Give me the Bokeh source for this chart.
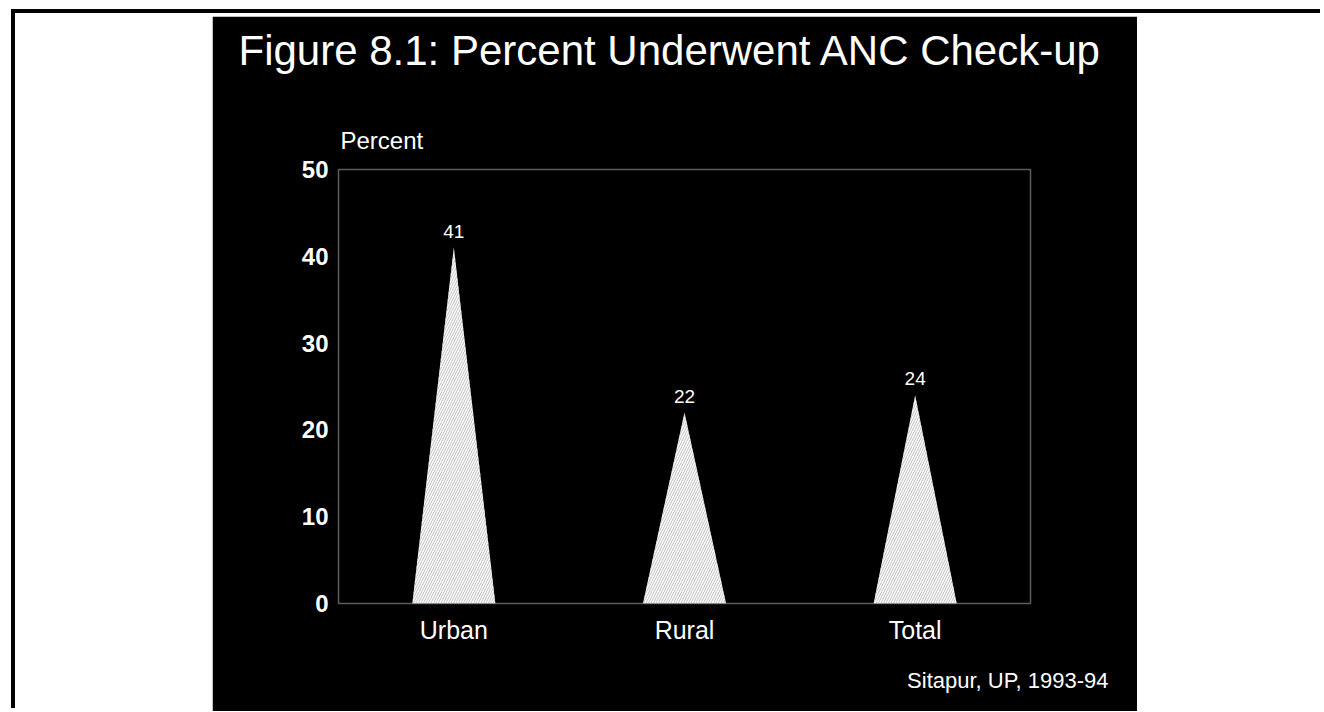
from bokeh.plotting import figure
from bokeh.models import Range1d, FixedTicker, Title, ColumnDataSource, LabelSet
from bokeh.core.properties import value
from bokeh.layouts import column
from bokeh.embed import file_html
from bokeh.resources import INLINE

# ---- data ----
categories = ["Urban", "Rural", "Total"]
values = [41, 22, 24]
y_ticks = [0, 10, 20, 30, 40, 50]
title_text = "Figure 8.1: Percent Underwent ANC Check-up"
source_text = "Sitapur, UP, 1993-94"
y_label = "Percent"

FONT = "Liberation Sans"
HALF = 0.18

centers = [i + 0.5 for i in range(len(categories))]
tri_src = ColumnDataSource(dict(
    xs=[[c - HALF, c, c + HALF] for c in centers],
    ys=[[0, v, 0] for v in values],
))
lab_src = ColumnDataSource(dict(x=centers, y=values, text=[str(v) for v in values]))

p = figure(width=925, height=696, x_range=Range1d(0, len(categories)), y_range=Range1d(0, 50),
           output_backend="svg", toolbar_location=None,
           background_fill_color="black", border_fill_color="black",
           outline_line_color="#5c5c5c", outline_line_width=1.5,
           min_border_left=126, min_border_right=107, min_border_top=153, min_border_bottom=108,
           margin=(3, 0, 0, 197))
p.grid.visible = False

p.patches("xs", "ys", source=tri_src, fill_color="white", line_color=None,
          hatch_pattern="/", hatch_color="#bdbdbd", hatch_scale=5, hatch_weight=1)

p.add_layout(LabelSet(x="x", y="y", text="text", source=lab_src, text_align="center",
                      text_baseline="alphabetic", y_offset=10, text_color="white",
                      text_font=value(FONT), text_font_size="19px"))

# y axis
p.yaxis.ticker = FixedTicker(ticks=y_ticks)
p.yaxis.axis_line_color = None
p.yaxis.major_tick_line_color = None
p.yaxis.minor_tick_line_color = None
p.yaxis.major_label_text_color = "white"
p.yaxis.major_label_text_font = FONT
p.yaxis.major_label_text_font_style = "bold"
p.yaxis.major_label_text_font_size = "24px"
p.yaxis.major_label_standoff = 4

# x axis
p.xaxis.ticker = FixedTicker(ticks=centers)
p.xaxis.major_label_overrides = {c: n for c, n in zip(centers, categories)}
p.xaxis.axis_line_color = None
p.xaxis.major_tick_line_color = None
p.xaxis.minor_tick_line_color = None
p.xaxis.major_label_text_color = "white"
p.xaxis.major_label_text_font = FONT
p.xaxis.major_label_text_font_size = "25px"
p.xaxis.major_label_standoff = 6

# "Percent" label above the y axis (nearest the frame)
p.add_layout(Title(text=y_label, align="left", offset=2, text_color="white",
                   text_font=FONT, text_font_style="normal", text_font_size="24px",
                   standoff=32), "above")
# empty spacer between "Percent" and the main title
p.add_layout(Title(text=" ", align="left", text_color="black",
                   text_font=FONT, text_font_size="1px", standoff=23), "above")

# main title (outermost)
p.title.text = title_text
p.title.text_color = "white"
p.title.text_font = FONT
p.title.text_font_style = "normal"
p.title.text_font_size = "42px"
p.title.align = "left"
p.title.offset = -100
p.title.standoff = 17

p.add_layout(Title(text=source_text, align="right", offset=-78, text_color="white",
                   text_font=FONT, text_font_style="normal", text_font_size="22px",
                   standoff=38), "below")

root = column(p, width=1309, height=699,
              styles={"border-top": "4px solid black", "border-left": "4px solid black",
                      "margin-top": "9px", "margin-left": "11px"})

open("out.html", "w").write(file_html(root, INLINE))
